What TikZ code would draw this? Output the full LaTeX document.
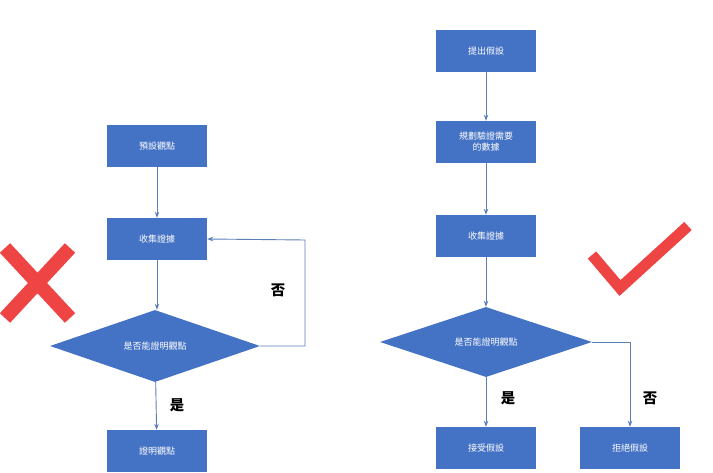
\documentclass[tikz,border=0pt]{standalone}
\usepackage{fontspec}
\newfontfamily\cjk{Noto Sans CJK TC}
\usetikzlibrary{shapes.geometric,arrows.meta}
\definecolor{bx}{HTML}{4472C4}
\definecolor{ln}{HTML}{5B7FB8}
\definecolor{rd}{HTML}{EE4444}
\begin{document}
\begin{tikzpicture}[x=1pt,y=-1pt,
  box/.style={fill=bx,text=white,minimum width=100pt,minimum height=42pt,inner sep=1pt,font=\cjk\small,align=center},
  dia/.style={diamond,fill=bx,text=white,aspect=3,inner sep=0pt,font=\cjk\small},
  arr/.style={draw=ln,line width=0.9pt,-{Stealth[length=6pt]}},
  lab/.style={font=\cjk\Large\bfseries}]
\useasboundingbox (0,0) rectangle (713,473);
\node[box] (a1) at (157,146) {預設觀點};
\node[box] (a2) at (157,239) {收集證據};
\node[dia,minimum width=210pt,minimum height=72pt] (a3) at (155,346) {是否能證明觀點};
\node[box] (a4) at (157,451) {證明觀點};
\coordinate (c1) at (305,346);
\coordinate (c2) at (305,240);
\draw[arr] (a1) -- (a2);
\draw[arr] (a2) -- (a2|-a3.north);
\draw[arr] (a3) -- (a4);
\draw[arr] (a3.east) -- (c1) -- (c2) -- (a2.east);
\node[lab] (n1) at (278,290) {否};
\node[lab] (y1) at (177,405) {是};
\node[box] (b1) at (486,51) {提出假設};
\node[box] (b2) at (486,142) {規劃驗證需要\\的數據};
\node[box] (b3) at (486,236) {收集證據};
\node[dia,minimum width=212pt,minimum height=70pt] (b4) at (486,342) {是否能證明觀點};
\node[box] (b5) at (486,448) {接受假設};
\node[box] (b6) at (630,448) {拒絕假設};
\coordinate (c3) at (630,342);
\draw[arr] (b1) -- (b2);
\draw[arr] (b2) -- (b3);
\draw[arr] (b3) -- (b4);
\draw[arr] (b4) -- (b5);
\draw[arr] (b4.east) -- (c3) -- (b6);
\node[lab] (n2) at (650,398) {否};
\node[lab] (y2) at (508,398) {是};
\draw[rd,line width=14pt] (5,248) -- (70,318) (70,248) -- (5,318);
\draw[rd,line width=11pt,line join=miter] (592,255) -- (620,288) -- (688,226);
\end{tikzpicture}
\end{document}
